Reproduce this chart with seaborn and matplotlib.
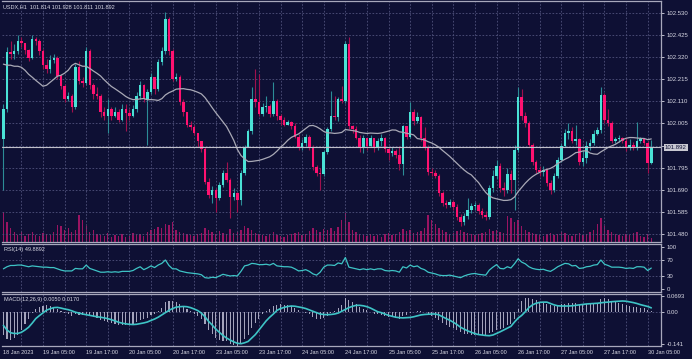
import matplotlib
matplotlib.use('Agg')
import matplotlib.pyplot as plt
import matplotlib.transforms as mtransforms
import seaborn as sns
import numpy as np
import pandas as pd

# ── USDX H1 bars (open of each bar = close of the bar before) ──────────
first_open = 101.929
closes = [
    102.072, 102.344, 102.334, 102.349, 102.396, 102.387, 102.354, 102.315, 102.406, 102.396,
    102.349, 102.282, 102.263, 102.306, 102.315, 102.230, 102.182, 102.120, 102.134, 102.082,
    102.272, 102.206, 102.196, 102.349, 102.187, 102.144, 102.134, 102.062, 102.043, 102.072,
    102.043, 102.062, 102.024, 102.072, 102.053, 102.043, 102.072, 102.134, 102.187, 102.120,
    102.153, 102.225, 102.167, 102.296, 102.349, 102.502, 102.349, 102.215, 102.225, 102.105,
    102.058, 101.996, 101.986, 101.962, 101.924, 101.886, 101.728, 101.666, 101.690, 101.652,
    101.714, 101.771, 101.738, 101.657, 101.676, 101.642, 101.771, 101.895, 101.967, 102.120,
    102.105, 102.048, 102.082, 102.086, 102.048, 102.110, 102.039, 102.024, 102.000, 102.010,
    101.991, 101.943, 101.895, 101.914, 101.943, 101.895, 101.800, 101.771, 101.767, 101.871,
    101.977, 102.039, 102.034, 102.120, 102.110, 102.382, 101.991, 101.977, 101.938, 101.895,
    101.934, 101.900, 101.934, 101.895, 101.924, 101.938, 101.886, 101.867, 101.876, 101.857,
    101.814, 101.991, 101.943, 102.058, 102.015, 102.034, 101.938, 101.895, 101.776, 101.771,
    101.757, 101.676, 101.628, 101.619, 101.633, 101.609, 101.561, 101.537, 101.566, 101.595,
    101.614, 101.619, 101.590, 101.571, 101.561, 101.700, 101.757, 101.805, 101.700, 101.690,
    101.767, 101.738, 101.881, 102.129, 102.043, 102.005, 101.905, 101.824, 101.786, 101.776,
    101.786, 101.724, 101.690, 101.757, 101.833, 101.900, 101.962, 101.967, 101.924, 101.929,
    101.824, 101.843, 101.900, 101.914, 101.957, 101.972, 102.139, 102.024, 102.005, 101.924,
    101.929, 101.934, 101.924, 101.891, 101.905, 101.895, 101.924, 101.929, 101.914, 101.819,
    101.892,
]
highs = [
    102.096, 102.368, 102.396, 102.382, 102.425, 102.416, 102.382, 102.358, 102.425, 102.416,
    102.406, 102.358, 102.311, 102.330, 102.334, 102.325, 102.239, 102.191, 102.153, 102.144,
    102.287, 102.301, 102.225, 102.368, 102.358, 102.196, 102.177, 102.144, 102.082, 102.120,
    102.082, 102.082, 102.072, 102.096, 102.096, 102.072, 102.091, 102.153, 102.206, 102.191,
    102.167, 102.244, 102.225, 102.311, 102.368, 102.535, 102.511, 102.358, 102.244, 102.234,
    102.120, 102.062, 102.015, 101.996, 101.943, 101.924, 101.895, 101.748, 101.709, 101.700,
    101.728, 101.786, 101.824, 101.748, 101.700, 101.681, 101.786, 101.905, 101.977, 102.177,
    102.263, 102.239, 102.101, 102.134, 102.096, 102.201, 102.120, 102.048, 102.034, 102.024,
    102.015, 102.005, 101.953, 101.929, 101.953, 101.948, 101.905, 101.809, 101.795, 101.881,
    101.986, 102.158, 102.134, 102.129, 102.182, 102.396, 102.416, 102.000, 101.991, 101.948,
    101.948, 101.938, 101.948, 101.938, 101.934, 101.953, 101.943, 101.891, 101.891, 101.886,
    101.900, 102.000, 101.986, 102.105, 102.072, 102.058, 102.043, 101.986, 101.905, 101.795,
    101.786, 101.767, 101.685, 101.642, 101.647, 101.642, 101.623, 101.576, 101.580, 101.652,
    101.628, 101.633, 101.628, 101.604, 101.590, 101.714, 101.786, 101.833, 101.819, 101.728,
    101.795, 101.786, 101.905, 102.177, 102.167, 102.062, 102.015, 101.914, 101.833, 101.805,
    101.805, 101.795, 101.738, 101.771, 101.848, 101.910, 101.977, 102.005, 101.986, 102.000,
    101.938, 101.881, 101.924, 101.929, 101.972, 101.986, 102.177, 102.148, 102.072, 102.015,
    101.943, 101.948, 101.943, 101.934, 101.929, 101.919, 102.010, 101.943, 101.938, 101.924,
    101.928,
]
lows = [
    101.690, 102.062, 102.311, 102.311, 102.334, 102.368, 102.334, 102.301, 102.311, 102.377,
    102.330, 102.263, 102.244, 102.244, 102.292, 102.215, 102.167, 102.105, 102.110, 102.058,
    102.072, 102.191, 102.177, 102.187, 102.167, 102.120, 102.120, 102.034, 102.024, 101.962,
    102.024, 102.034, 102.010, 102.015, 101.967, 102.024, 102.034, 102.062, 102.120, 102.105,
    101.905, 102.144, 102.144, 102.158, 102.282, 102.334, 102.330, 102.206, 102.206, 102.091,
    102.043, 101.986, 101.972, 101.948, 101.891, 101.871, 101.719, 101.652, 101.628, 101.585,
    101.642, 101.705, 101.728, 101.556, 101.642, 101.585, 101.619, 101.762, 101.891, 101.957,
    102.082, 102.039, 102.039, 102.062, 102.034, 102.043, 102.024, 102.000, 101.991, 101.996,
    101.977, 101.934, 101.881, 101.881, 101.900, 101.881, 101.786, 101.757, 101.690, 101.757,
    101.862, 101.967, 102.024, 102.015, 102.101, 102.101, 101.977, 101.962, 101.929, 101.871,
    101.867, 101.881, 101.891, 101.871, 101.881, 101.900, 101.871, 101.833, 101.852, 101.843,
    101.786, 101.762, 101.929, 101.934, 102.000, 102.005, 101.924, 101.881, 101.762, 101.757,
    101.748, 101.661, 101.614, 101.604, 101.609, 101.595, 101.547, 101.518, 101.523, 101.552,
    101.580, 101.595, 101.576, 101.556, 101.547, 101.552, 101.681, 101.743, 101.681, 101.661,
    101.676, 101.676, 101.595, 101.871, 102.024, 101.986, 101.891, 101.809, 101.771, 101.757,
    101.757, 101.709, 101.671, 101.681, 101.748, 101.824, 101.891, 101.929, 101.910, 101.905,
    101.809, 101.805, 101.819, 101.881, 101.905, 101.948, 101.962, 102.005, 101.991, 101.910,
    101.914, 101.919, 101.910, 101.876, 101.881, 101.881, 101.881, 101.914, 101.905, 101.771,
    101.811,
]
volumes = [
    7500, 5000, 3500, 2500, 1750, 2500, 1500, 2000, 2500, 1750,
    1500, 2250, 2000, 1750, 2500, 4250, 4000, 3000, 3500, 2500,
    3000, 6750, 5500, 4000, 2500, 3000, 2000, 1750, 1500, 2250,
    1250, 1750, 1500, 2000, 1250, 1500, 2250, 1750, 2000, 1500,
    2500, 3000, 3250, 3750, 3500, 4500, 4250, 5000, 3000, 2500,
    2250, 2000, 1750, 1500, 2000, 2250, 3500, 3000, 2500, 2000,
    2750, 2250, 2000, 3250, 2250, 2500, 3000, 4000, 3500, 3000,
    2250, 2000, 1750, 1500, 2000, 2500, 1750, 1500, 1250, 1750,
    2000, 2250, 2500, 1750, 2000, 2750, 3500, 3000, 2500, 3250,
    3000, 3500, 2750, 3750, 5500, 7250, 5000, 3000, 2500, 2000,
    1750, 1500, 2000, 1500, 1750, 1250, 2000, 2250, 1750, 2000,
    2500, 3250, 2750, 3000, 2250, 2500, 2750, 3500, 6750, 5500,
    4500, 3500, 3000, 2500, 2000, 2250, 2750, 3000, 2500, 2250,
    2000, 1750, 2000, 2250, 2500, 3250, 2750, 3000, 2500, 2250,
    6500, 6000, 5000, 5500, 4000, 3000, 2500, 2250, 2000, 1750,
    1500, 2000, 2250, 1750, 2000, 2500, 2250, 1750, 1500, 2000,
    2250, 1750, 2000, 2500, 3000, 4500, 6000, 4000, 3000, 2500,
    2000, 1750, 1500, 2000, 1750, 2250, 2500, 1500, 1250, 2000,
    1000,
]
# MA(20) values of the first 19 bars (their history lies left of the chart)
ma_start = [102.287, 102.282, 102.282, 102.277, 102.277, 102.272, 102.258, 102.239, 102.225, 102.210,
            102.196, 102.182, 102.187, 102.201, 102.215, 102.230, 102.234, 102.244, 102.258]

rsi = [
    48, 53, 56, 56, 57, 57, 55, 53, 55, 54,
    53, 52, 52, 51, 51, 48, 45, 43, 43, 43,
    49, 48, 48, 57, 49, 46, 43, 40, 40, 41,
    40, 41, 40, 42, 42, 42, 44, 49, 53, 46,
    50, 55, 51, 57, 61, 69, 56, 48, 48, 43,
    41, 39, 38, 37, 36, 34, 27, 26, 28, 27,
    31, 35, 33, 31, 32, 31, 42, 55, 57, 61,
    60, 58, 58, 59, 57, 61, 55, 54, 53, 53,
    52, 48, 43, 44, 46, 42, 36, 33, 40, 52,
    57, 57, 56, 62, 60, 75, 52, 50, 48, 46,
    48, 46, 48, 46, 48, 48, 44, 43, 44, 43,
    40, 53, 50, 57, 53, 55, 49, 46, 40, 38,
    36, 33, 32, 32, 33, 31, 29, 27, 31, 34,
    36, 37, 35, 34, 33, 45, 52, 58, 49, 48,
    53, 50, 60, 72, 64, 60, 53, 49, 47, 46,
    47, 44, 42, 47, 53, 57, 61, 60, 55, 56,
    49, 50, 53, 54, 57, 58, 69, 59, 56, 52,
    52, 52, 51, 49, 50, 49, 53, 53, 52, 44,
    49.89,
]
macd_main = [
    -0.100, -0.120, -0.125, -0.115, -0.100, -0.080, -0.055, -0.030, -0.005, 0.012,
    0.020, 0.025, 0.028, 0.025, 0.020, 0.012, 0.004, -0.004, -0.010, -0.018,
    -0.012, -0.014, -0.016, -0.008, -0.015, -0.022, -0.028, -0.036, -0.042, -0.046,
    -0.050, -0.052, -0.056, -0.057, -0.058, -0.058, -0.054, -0.046, -0.036, -0.034,
    -0.028, -0.016, -0.012, 0.002, 0.018, 0.042, 0.048, 0.046, 0.044, 0.034,
    0.024, 0.012, 0.002, -0.008, -0.018, -0.030, -0.055, -0.080, -0.098, -0.115,
    -0.122, -0.126, -0.130, -0.140, -0.145, -0.148, -0.140, -0.120, -0.100, -0.070,
    -0.050, -0.030, -0.012, 0.002, 0.010, 0.026, 0.030, 0.032, 0.030, 0.028,
    0.024, 0.016, 0.006, -0.002, -0.006, -0.012, -0.022, -0.030, -0.033, -0.028,
    -0.018, -0.006, 0.004, 0.016, 0.030, 0.058, 0.050, 0.042, 0.034, 0.022,
    0.014, 0.006, -0.002, -0.008, -0.012, -0.015, -0.018, -0.022, -0.024, -0.026,
    -0.030, -0.018, -0.014, -0.006, -0.002, 0.002, 0.004, 0.000, -0.010, -0.018,
    -0.026, -0.036, -0.048, -0.058, -0.066, -0.072, -0.080, -0.090, -0.096, -0.098,
    -0.100, -0.102, -0.104, -0.104, -0.103, -0.095, -0.088, -0.078, -0.074, -0.070,
    -0.060, -0.052, -0.030, 0.010, 0.045, 0.060, 0.062, 0.056, 0.050, 0.044,
    0.040, 0.034, 0.028, 0.026, 0.028, 0.032, 0.036, 0.040, 0.040, 0.038,
    0.032, 0.030, 0.032, 0.034, 0.036, 0.040, 0.054, 0.058, 0.054, 0.046,
    0.042, 0.038, 0.034, 0.030, 0.026, 0.022, 0.020, 0.018, 0.016, 0.008,
    0.005,
]
macd_signal = [
    -0.060, -0.080, -0.092, -0.095, -0.095, -0.090, -0.080, -0.068, -0.050, -0.030,
    -0.017, -0.005, 0.007, 0.013, 0.018, 0.019, 0.016, 0.012, 0.009, 0.004,
    -0.002, -0.006, -0.010, -0.013, -0.016, -0.019, -0.022, -0.024, -0.027, -0.030,
    -0.035, -0.040, -0.046, -0.050, -0.053, -0.055, -0.056, -0.055, -0.052, -0.049,
    -0.045, -0.038, -0.032, -0.024, -0.014, -0.004, 0.006, 0.014, 0.020, 0.022,
    0.023, 0.022, 0.018, 0.012, 0.005, -0.006, -0.022, -0.042, -0.058, -0.076,
    -0.090, -0.104, -0.115, -0.124, -0.132, -0.138, -0.140, -0.136, -0.130, -0.115,
    -0.100, -0.080, -0.060, -0.040, -0.024, -0.010, 0.006, 0.014, 0.019, 0.023,
    0.025, 0.024, 0.021, 0.018, 0.014, 0.008, 0.002, -0.004, -0.010, -0.012,
    -0.013, -0.012, -0.010, -0.006, 0.002, 0.010, 0.018, 0.024, 0.028, 0.028,
    0.026, 0.022, 0.016, 0.008, 0.000, -0.004, -0.010, -0.016, -0.020, -0.024,
    -0.026, -0.027, -0.026, -0.025, -0.022, -0.018, -0.014, -0.012, -0.011, -0.010,
    -0.010, -0.014, -0.022, -0.030, -0.037, -0.046, -0.056, -0.068, -0.076, -0.084,
    -0.090, -0.096, -0.100, -0.102, -0.104, -0.105, -0.102, -0.095, -0.088, -0.080,
    -0.072, -0.064, -0.045, -0.028, -0.016, 0.000, 0.018, 0.030, 0.037, 0.041,
    0.042, 0.042, 0.036, 0.030, 0.026, 0.025, 0.025, 0.025, 0.026, 0.028,
    0.030, 0.032, 0.034, 0.035, 0.036, 0.037, 0.039, 0.041, 0.042, 0.044,
    0.045, 0.046, 0.047, 0.046, 0.043, 0.040, 0.036, 0.031, 0.027, 0.023,
    0.017,
]

price_ticks = [102.530, 102.425, 102.320, 102.215, 102.110, 102.005, 101.900, 101.795, 101.690, 101.585, 101.480]
bid_price = 101.892
date_labels = ['18 Jan 2023', '19 Jan 05:00', '19 Jan 17:00', '20 Jan 05:00', '20 Jan 17:00',
               '23 Jan 05:00', '23 Jan 17:00', '24 Jan 05:00', '24 Jan 17:00', '25 Jan 05:00',
               '25 Jan 17:00', '26 Jan 05:00', '26 Jan 17:00', '27 Jan 05:00', '27 Jan 17:00',
               '30 Jan 05:00']
date_label_bars = [0, 11, 23, 35, 47, 59, 71, 83, 95, 107, 119, 131, 143, 155, 167, 179]
title_text = 'USDX,H1  101.814 101.928 101.811 101.892'

# ── style ────────────────────────────────────────────────────────────
BG = '#0e1034'
GRID = '#50527c'
FRAME = '#a8a8bc'
TXT = '#d8d8e4'
BULL, BULL_WICK = '#4ae2d6', '#2c8c96'
BEAR, BEAR_WICK = '#ff1270', '#a0104e'
VOL = '#9a1462'

sns.set_theme(style='dark', rc={'axes.facecolor': BG, 'figure.facecolor': BG,
                                'axes.edgecolor': FRAME, 'text.color': TXT,
                                'xtick.color': TXT, 'ytick.color': TXT})
plt.rcParams['font.family'] = ['Liberation Sans', 'DejaVu Sans']

closes = np.array(closes)
highs = np.array(highs)
lows = np.array(lows)
opens = np.r_[first_open, closes[:-1]]
idx = np.arange(len(closes))
ma = pd.Series(closes).rolling(20).mean()
ma.iloc[:len(ma_start)] = ma_start
df = pd.DataFrame({'bar': idx, 'ma': ma, 'rsi': rsi, 'signal': macd_signal})

W, H = 692, 359
def box(x0, y0, x1, y1):
    return [x0 / W, 1 - y1 / H, (x1 - x0) / W, (y1 - y0) / H]

fig = plt.figure(figsize=(W / 100, H / 100), dpi=100, facecolor=BG)
ax_vol = fig.add_axes(box(2, 1, 661, 242))
ax = fig.add_axes(box(2, 1, 661, 242), sharex=ax_vol)
ax.patch.set_visible(False)
ax_rsi = fig.add_axes(box(2, 244, 661, 292))
ax_macd = fig.add_axes(box(2, 294, 661, 346))

XLIM = (-0.39, 182.7)
vgrid = np.arange(5, 183, 6)
dash = (0, (2, 2))

def frame(a):
    a.set_xlim(*XLIM)
    a.set_xticks([])
    a.set_xlabel(''); a.set_ylabel('')
    for s in ['top', 'right', 'bottom']:
        a.spines[s].set_visible(True)
        a.spines[s].set_color(FRAME)
        a.spines[s].set_linewidth(0.9)
    a.spines['left'].set_visible(False)
    a.yaxis.tick_right()
    a.tick_params(axis='y', length=2.5, width=0.6, pad=1.5, labelsize=4.3, colors=TXT)
    for g in vgrid:
        a.axvline(g, color=GRID, lw=0.6, ls=dash, zorder=0)

# ── volume (background layer) ────────────────────────────────────────
ax_vol.bar(idx, volumes, width=0.38, color=VOL, linewidth=0)
ax_vol.set_ylim(0, 60000)
ax_vol.set_xlim(*XLIM)
ax_vol.axis('off')
ax_vol.patch.set_visible(True)
ax_vol.patch.set_facecolor(BG)

# ── candles ──────────────────────────────────────────────────────────
frame(ax)
up = closes >= opens
ax.vlines(idx[up], lows[up], highs[up], color=BULL_WICK, lw=0.8, zorder=2)
ax.vlines(idx[~up], lows[~up], highs[~up], color=BEAR_WICK, lw=0.8, zorder=2)
body_lo = np.minimum(opens, closes)
body_h = np.maximum(np.abs(closes - opens), 0.0015)
ax.bar(idx[up], body_h[up], bottom=body_lo[up], width=0.7, color=BULL, linewidth=0, zorder=3)
ax.bar(idx[~up], body_h[~up], bottom=body_lo[~up], width=0.7, color=BEAR, linewidth=0, zorder=3)
sns.lineplot(data=df, x='bar', y='ma', ax=ax, color='#a9a9b6', lw=0.9, zorder=4)
ax.axhline(bid_price, color='#c0c0ca', lw=0.8, zorder=4)
ax.set_ylim(101.442, 102.587)
ax.set_yticks(price_ticks)
ax.set_yticklabels([f'{p:.3f}' if p != 101.900 else '' for p in price_ticks])
for p in price_ticks:
    ax.axhline(p, color=GRID, lw=0.6, ls=dash, zorder=0)
ax.set_xlim(*XLIM)
ax.set_xlabel(''); ax.set_ylabel('')
bt = mtransforms.blended_transform_factory(ax.transAxes, ax.transData)
ax.text(1.006, bid_price, f'{bid_price:.3f}', transform=bt, ha='left', va='center',
        fontsize=4.3, color=BG,
        bbox=dict(boxstyle='square,pad=0.2', fc='#c8c8d2', ec='none'))
ax.text(0.002, 0.985, title_text, transform=ax.transAxes, ha='left', va='top',
        fontsize=4, color=TXT)

# ── RSI ──────────────────────────────────────────────────────────────
frame(ax_rsi)
sns.lineplot(data=df, x='bar', y='rsi', ax=ax_rsi, color='#3ec4c6', lw=0.9)
ax_rsi.set_xlim(*XLIM)
ax_rsi.set_ylim(-7.1, 107.1)
ax_rsi.set_yticks([0, 30, 70, 100])
ax_rsi.set_yticklabels(['0', '30', '70', '100'])
for lv in (30, 70):
    ax_rsi.axhline(lv, color=GRID, lw=0.6, ls=dash, zorder=0)
ax_rsi.set_xlabel(''); ax_rsi.set_ylabel('')
ax_rsi.text(0.003, 0.93, 'RSI(14) 49.8892', transform=ax_rsi.transAxes,
            ha='left', va='top', fontsize=4, color=TXT)

# ── MACD ─────────────────────────────────────────────────────────────
frame(ax_macd)
ax_macd.bar(idx, macd_main, width=0.3, color='#a4a4bc', linewidth=0, zorder=2)
sns.lineplot(data=df, x='bar', y='signal', ax=ax_macd, color='#3ec4c6', lw=1.2, zorder=3)
ax_macd.axhline(0, color=GRID, lw=0.6, ls=dash, zorder=0)
ax_macd.set_xlim(*XLIM)
ax_macd.set_ylim(-0.150, 0.0776)
ax_macd.set_yticks([0.0693, 0.0, -0.141])
ax_macd.set_yticklabels(['0.0693', '0.00', '-0.141'])
ax_macd.set_xlabel(''); ax_macd.set_ylabel('')
ax_macd.text(0.003, 0.95, 'MACD(12,26,9) 0.0050 0.0170', transform=ax_macd.transAxes,
             ha='left', va='top', fontsize=4, color=TXT)

dt = mtransforms.blended_transform_factory(ax_macd.transData, ax_macd.transAxes)
for b, lab in zip(date_label_bars, date_labels):
    ax_macd.text(b, -0.13, lab, transform=dt, ha='left', va='center', fontsize=4, color=TXT)

fig.savefig('out.png', dpi=100, facecolor=BG)
